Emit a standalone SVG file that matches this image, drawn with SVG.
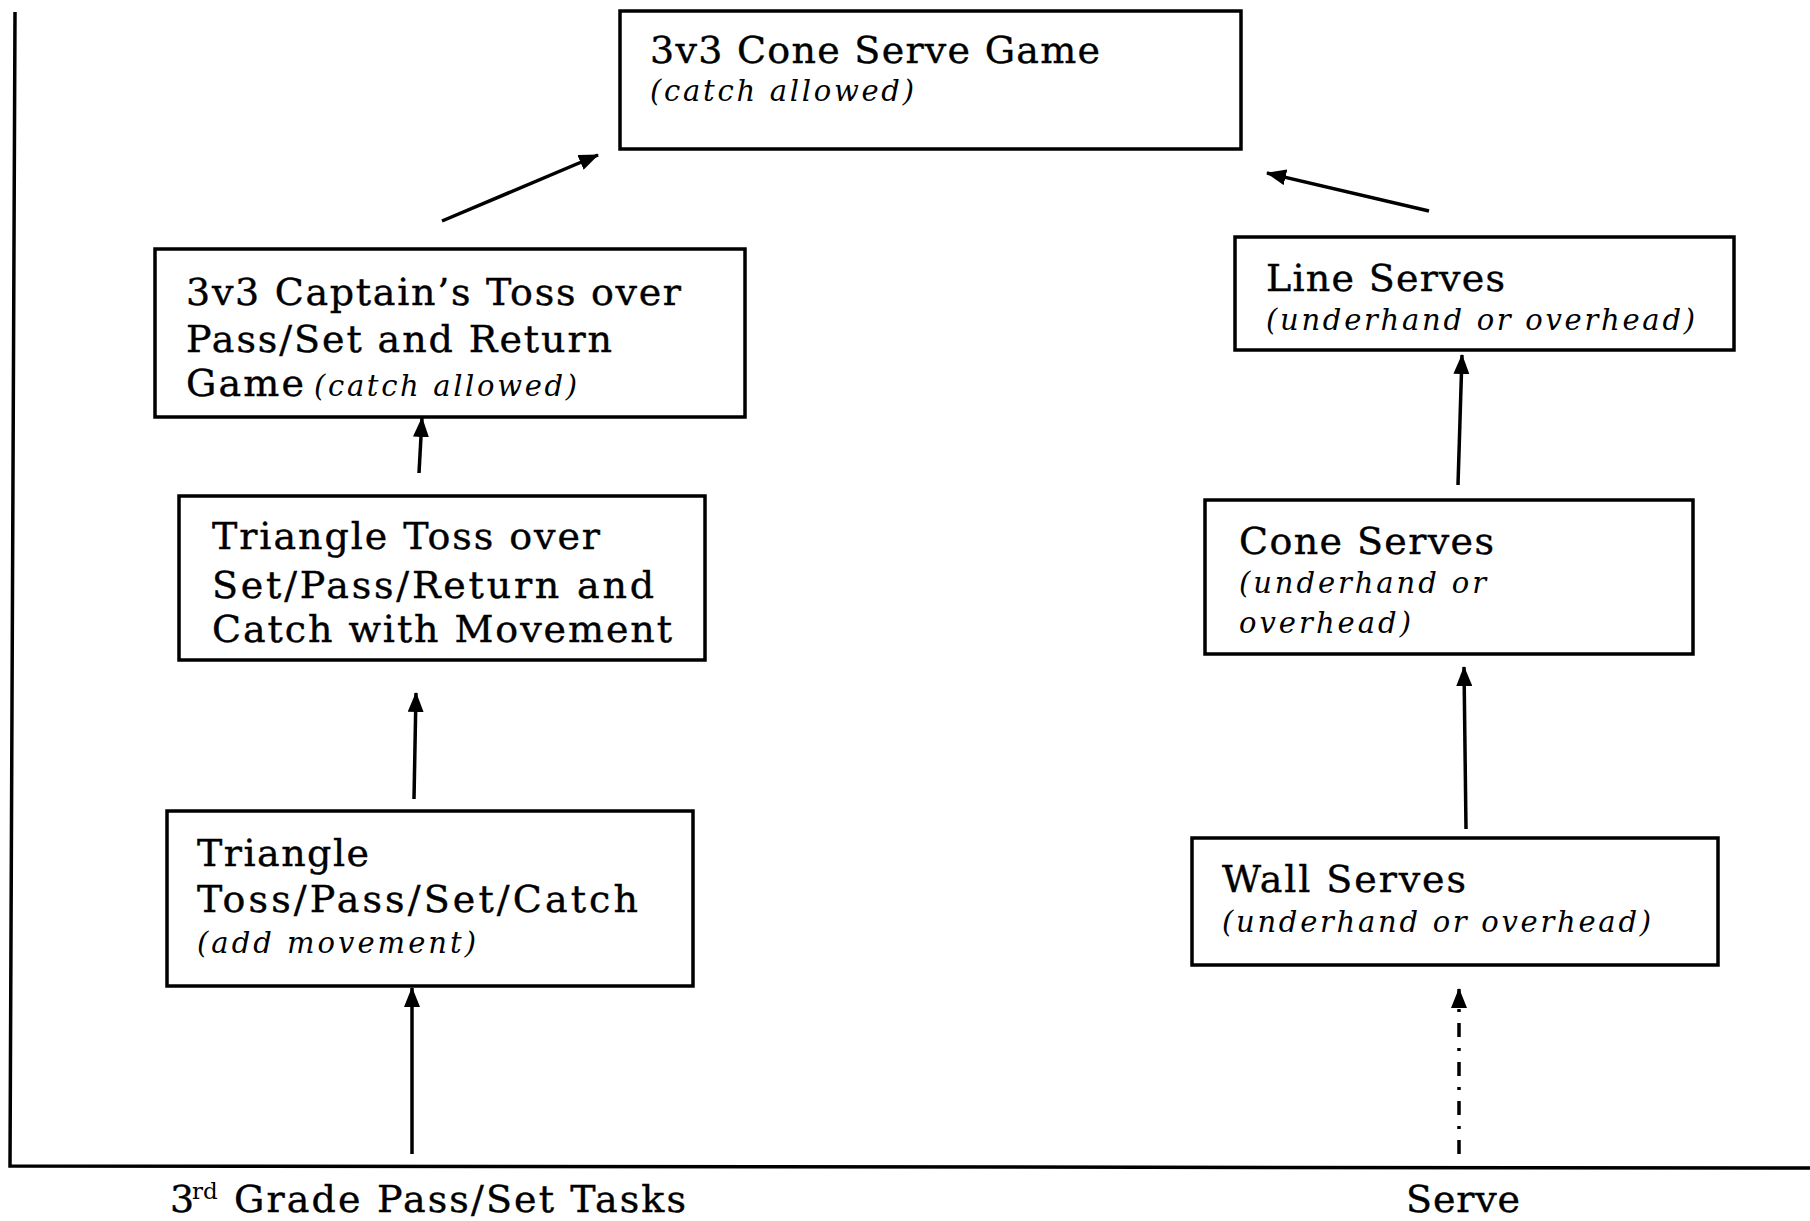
<svg xmlns="http://www.w3.org/2000/svg" width="1810" height="1221" viewBox="0 0 1810 1221">
  <defs>
    <marker id="head" markerUnits="userSpaceOnUse" markerWidth="20" markerHeight="16" refX="19" refY="8" orient="auto">
      <path d="M0,0 L20,8 L0,16 z" fill="#000"/>
    </marker>
    <style>
      .box { fill: #fff; stroke: #000; stroke-width: 3.5; }
      .t { font-family: "DejaVu Serif", "Liberation Serif", serif; font-size: 38px; fill: #000; stroke: #000; stroke-width: 0.4px; }
      .sup { font-family: "DejaVu Serif", "Liberation Serif", serif; font-size: 23px; fill: #000; }
      .i { font-family: "DejaVu Serif", "Liberation Serif", serif; font-size: 29px; font-style: italic; fill: #000; }
      .axis { fill: none; stroke: #000; stroke-width: 3.5; }
      .edge { fill: none; stroke: #000; stroke-width: 3.5; marker-end: url(#head); }
      .dashdot { stroke-dasharray: 14 11 3 11; }
    </style>
  </defs>

  <rect width="1810" height="1221" fill="#fff"/>

  <!-- axes -->
  <g id="axes">
    <path class="axis" d="M15,12 L10,1166 L1810,1168"/>
  </g>

  <!-- connectors -->
  <g id="connectors">
    <line class="edge" x1="442" y1="221" x2="598" y2="155"/>
    <line class="edge" x1="1429" y1="211" x2="1267" y2="173"/>
    <line class="edge" x1="419" y1="473" x2="422" y2="418"/>
    <line class="edge" x1="414" y1="799" x2="416" y2="693"/>
    <line class="edge" x1="412" y1="1154" x2="412" y2="988"/>
    <line class="edge" x1="1458" y1="485" x2="1462" y2="355"/>
    <line class="edge" x1="1466" y1="829" x2="1464" y2="667"/>
    <line class="edge dashdot" x1="1459" y1="1154" x2="1459" y2="989"/>
  </g>

  <!-- top: game -->
  <g id="cone-serve-game">
    <rect class="box" x="620" y="11" width="621" height="138"/>
    <text class="t" x="650" y="63" textLength="450" lengthAdjust="spacing">3v3 Cone Serve Game</text>
    <text class="i" x="650" y="101" textLength="264" lengthAdjust="spacing">(catch allowed)</text>
  </g>

  <!-- pass/set column -->
  <g id="captains-toss">
    <rect class="box" x="155" y="249" width="590" height="168"/>
    <text class="t" x="186" y="305" textLength="495" lengthAdjust="spacing">3v3 Captain’s Toss over</text>
    <text class="t" x="186" y="352" textLength="426" lengthAdjust="spacing">Pass/Set and Return</text>
    <text class="t" x="186" y="396" textLength="118" lengthAdjust="spacing">Game</text>
    <text class="i" x="314" y="396" textLength="263" lengthAdjust="spacing">(catch allowed)</text>
  </g>

  <g id="triangle-toss-over">
    <rect class="box" x="179" y="496" width="526" height="164"/>
    <text class="t" x="212" y="549" textLength="388" lengthAdjust="spacing">Triangle Toss over</text>
    <text class="t" x="212" y="598" textLength="442" lengthAdjust="spacing">Set/Pass/Return and</text>
    <text class="t" x="212" y="642" textLength="460" lengthAdjust="spacing">Catch with Movement</text>
  </g>

  <g id="triangle-toss-pass">
    <rect class="box" x="167" y="811" width="526" height="175"/>
    <text class="t" x="197" y="866" textLength="172" lengthAdjust="spacing">Triangle</text>
    <text class="t" x="197" y="912" textLength="441" lengthAdjust="spacing">Toss/Pass/Set/Catch</text>
    <text class="i" x="197" y="953" textLength="279" lengthAdjust="spacing">(add movement)</text>
  </g>

  <!-- serve column -->
  <g id="line-serves">
    <rect class="box" x="1235" y="237" width="499" height="113"/>
    <text class="t" x="1266" y="291" textLength="239" lengthAdjust="spacing">Line Serves</text>
    <text class="i" x="1266" y="330" textLength="429" lengthAdjust="spacing">(underhand or overhead)</text>
  </g>

  <g id="cone-serves">
    <rect class="box" x="1205" y="500" width="488" height="154"/>
    <text class="t" x="1239" y="554" textLength="255" lengthAdjust="spacing">Cone Serves</text>
    <text class="i" x="1239" y="593" textLength="247" lengthAdjust="spacing">(underhand or</text>
    <text class="i" x="1239" y="633" textLength="172" lengthAdjust="spacing">overhead)</text>
  </g>

  <g id="wall-serves">
    <rect class="box" x="1192" y="838" width="526" height="127"/>
    <text class="t" x="1222" y="892" textLength="244" lengthAdjust="spacing">Wall Serves</text>
    <text class="i" x="1222" y="932" textLength="429" lengthAdjust="spacing">(underhand or overhead)</text>
  </g>

  <!-- axis labels -->
  <g id="axis-labels">
    <text class="t" x="170" y="1212">3</text>
    <text class="sup" x="192" y="1199">rd</text>
    <text class="t" x="234" y="1212" textLength="452" lengthAdjust="spacing">Grade Pass/Set Tasks</text>
    <text class="t" x="1406" y="1212" textLength="114" lengthAdjust="spacing">Serve</text>
  </g>
</svg>
